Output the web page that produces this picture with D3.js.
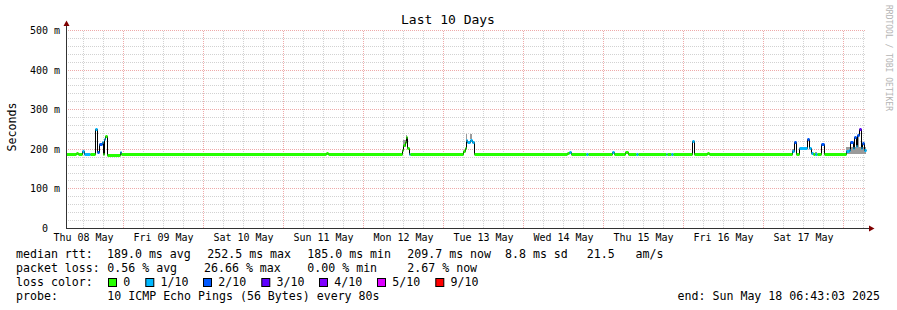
<!DOCTYPE html>
<html>
<head>
<meta charset="utf-8">
<script src="https://cdn.jsdelivr.net/npm/d3@7"></script>
<style>
  body { margin: 0; background: #fff; }
  text { font-family: "DejaVu Sans Mono", monospace; fill: #000; white-space: pre; }
</style>
</head>
<body>
<div id="chart"></div>
<script>
var svgWidth = 897;
var svgHeight = 310;

var parseTime = d3.timeParse("%Y-%m-%d %H:%M");

var startTime = "2025-05-08 06:43";
var endTime = "2025-05-18 06:43";

var yTicks = [0, 100, 200, 300, 400, 500];
var yTickLabels = ["0  ", "100 m", "200 m", "300 m", "400 m", "500 m"];

// loss levels, colour per level
var lossLevels = ["0", "1/10", "2/10", "3/10", "4/10", "5/10", "9/10"];
var lossColors = ["#26ff00", "#00b8ff", "#0059ff", "#5e00ff", "#7e00ff", "#dd00ff", "#ff0000"];

// median rtt as steps: [from, ms, loss level index]
var medianSteps = [
    ["2025-05-08 06:43", 187, 0],
    ["2025-05-08 09:43", 190, 0],
    ["2025-05-08 10:19", 187, 0],
    ["2025-05-08 11:44", 195, 1],
    ["2025-05-08 12:07", 188, 1],
    ["2025-05-08 13:55", 187, 0],
    ["2025-05-08 15:34", 250, 1],
    ["2025-05-08 16:01", 191, 2],
    ["2025-05-08 16:46", 212, 2],
    ["2025-05-08 17:31", 216, 1],
    ["2025-05-08 17:58", 187, 0],
    ["2025-05-08 18:16", 225, 1],
    ["2025-05-08 18:34", 232, 0],
    ["2025-05-08 19:01", 185, 0],
    ["2025-05-08 22:55", 191, 1],
    ["2025-05-08 23:13", 187, 0],
    ["2025-05-11 12:43", 190, 0],
    ["2025-05-11 13:19", 187, 0],
    ["2025-05-12 11:31", 198, 0],
    ["2025-05-12 11:49", 209, 0],
    ["2025-05-12 12:25", 216, 0],
    ["2025-05-12 12:43", 229, 0],
    ["2025-05-12 13:10", 203, 0],
    ["2025-05-12 13:37", 187, 1],
    ["2025-05-12 13:55", 187, 0],
    ["2025-05-13 05:49", 195, 0],
    ["2025-05-13 06:25", 203, 0],
    ["2025-05-13 06:52", 221, 1],
    ["2025-05-13 07:19", 216, 1],
    ["2025-05-13 07:55", 223, 1],
    ["2025-05-13 08:31", 218, 1],
    ["2025-05-13 09:07", 187, 0],
    ["2025-05-14 13:01", 190, 0],
    ["2025-05-14 13:37", 192, 1],
    ["2025-05-14 14:13", 187, 0],
    ["2025-05-14 18:43", 187, 1],
    ["2025-05-14 19:19", 187, 0],
    ["2025-05-15 02:31", 191, 1],
    ["2025-05-15 03:07", 187, 0],
    ["2025-05-15 06:43", 191, 0],
    ["2025-05-15 07:19", 187, 0],
    ["2025-05-15 09:43", 187, 1],
    ["2025-05-15 10:19", 187, 0],
    ["2025-05-15 18:43", 187, 1],
    ["2025-05-15 19:19", 187, 0],
    ["2025-05-15 20:31", 187, 1],
    ["2025-05-15 20:49", 187, 0],
    ["2025-05-16 02:31", 220, 1],
    ["2025-05-16 03:07", 187, 0],
    ["2025-05-16 07:01", 190, 0],
    ["2025-05-16 07:37", 187, 0],
    ["2025-05-17 08:49", 195, 1],
    ["2025-05-17 09:07", 218, 2],
    ["2025-05-17 09:52", 188, 0],
    ["2025-05-17 10:55", 202, 1],
    ["2025-05-17 13:10", 224, 2],
    ["2025-05-17 13:37", 203, 1],
    ["2025-05-17 14:13", 190, 1],
    ["2025-05-17 14:49", 187, 0],
    ["2025-05-17 15:25", 186, 1],
    ["2025-05-17 16:19", 187, 0],
    ["2025-05-17 17:31", 213, 2],
    ["2025-05-17 18:25", 187, 0],
    ["2025-05-18 00:43", 194, 1],
    ["2025-05-18 01:37", 198, 1],
    ["2025-05-18 02:13", 218, 2],
    ["2025-05-18 02:49", 203, 1],
    ["2025-05-18 03:16", 230, 2],
    ["2025-05-18 03:43", 206, 1],
    ["2025-05-18 04:10", 236, 2],
    ["2025-05-18 04:37", 250, 3],
    ["2025-05-18 05:13", 203, 1],
    ["2025-05-18 05:40", 214, 2],
    ["2025-05-18 06:07", 196, 1]
];

// smoke (spread of the pings): [from, to, low ms, high ms]
var smokeBands = [
    ["2025-05-12 11:49", "2025-05-12 12:43", 205, 222],
    ["2025-05-12 12:43", "2025-05-12 13:10", 215, 236],
    ["2025-05-13 06:52", "2025-05-13 07:19", 222, 238],
    ["2025-05-13 07:55", "2025-05-13 08:31", 224, 238],
    ["2025-05-17 08:49", "2025-05-17 09:07", 190, 200],
    ["2025-05-17 15:25", "2025-05-17 16:19", 185, 192],
    ["2025-05-18 00:43", "2025-05-18 06:43", 187, 205],
    ["2025-05-18 04:10", "2025-05-18 04:37", 205, 232]
];

var rttStats = ["189.0 ms avg", "252.5 ms max", "185.0 ms min", "209.7 ms now", "8.8 ms sd", "21.5   am/s"];
var lossStats = ["0.56 % avg", "26.66 % max", "0.00 % min", "2.67 % now"];
var probeText = "10 ICMP Echo Pings (56 Bytes) every 80s";
var endText = "end: Sun May 18 06:43:03 2025";

var svg = d3.select("#chart")
    .append("svg")
    .attr("width", svgWidth)
    .attr("height", svgHeight);

var t0 = parseTime(startTime);
var t1 = parseTime(endTime);

var x = d3.scaleTime()
    .domain([t0, t1])
    .rangeRound([65.5, 865.5]);

var y = d3.scaleLinear()
    .domain([0, 500])
    .rangeRound([228, 30]);

var plotH = 228 - 30;

// grid
function styleGrid(g, color) {
    g.select(".domain").remove();
    g.selectAll("line")
        .attr("stroke", color)
        .attr("stroke-dasharray", "1,1");
}

svg.append("g")
    .attr("transform", "translate(66,0)")
    .call(d3.axisLeft(y).tickValues(d3.range(20, 500, 20).filter(d => d % 100 !== 0)).tickSize(-800).tickFormat(""))
    .call(styleGrid, "#d2d2d2");

svg.append("g")
    .attr("transform", "translate(0,228)")
    .call(d3.axisBottom(x).tickValues(d3.timeHour.every(6).range(t0, t1).filter(d => d.getHours() !== 0)).tickSize(-plotH).tickFormat(""))
    .call(styleGrid, "#d2d2d2");

svg.append("g")
    .attr("transform", "translate(66,0)")
    .call(d3.axisLeft(y).tickValues(yTicks.slice(1)).tickSize(-800).tickFormat(""))
    .call(styleGrid, "#eeaaaa");

svg.append("g")
    .attr("transform", "translate(0,228)")
    .call(d3.axisBottom(x).tickValues(d3.timeDay.range(t0, t1)).tickSize(-plotH).tickFormat(""))
    .call(styleGrid, "#eeaaaa");

// smoke
svg.append("g")
    .selectAll("rect")
    .data(smokeBands)
    .enter()
    .append("rect")
    .attr("x", d => x(parseTime(d[0])))
    .attr("width", d => x(parseTime(d[1])) - x(parseTime(d[0])))
    .attr("y", d => y(d[3]))
    .attr("height", d => y(d[2]) - y(d[3]))
    .attr("fill", "#9a9a9a");

// median
var steps = medianSteps.map(function (d, i) {
    var next = medianSteps[i + 1];
    return {
        from: parseTime(d[0]),
        to: parseTime(next ? next[0] : endTime),
        rtt: d[1],
        loss: d[2]
    };
});

var medianGroup = svg.append("g")
    .attr("transform", "translate(0.5,0.5)");

var stepLine = d3.line()
    .x(d => x(d.t))
    .y(d => y(d.rtt))
    .curve(d3.curveStepAfter);

var linePoints = steps.map(d => ({ t: d.from, rtt: d.rtt }));
linePoints.push({ t: t1, rtt: steps[steps.length - 1].rtt });

medianGroup.append("path")
    .datum(linePoints)
    .attr("d", stepLine)
    .attr("fill", "none")
    .attr("stroke", "#000")
    .attr("stroke-width", 1);

medianGroup.selectAll("line.med")
    .data(steps)
    .enter()
    .append("line")
    .attr("class", "med")
    .attr("x1", d => x(d.from))
    .attr("x2", d => x(d.to))
    .attr("y1", d => y(d.rtt))
    .attr("y2", d => y(d.rtt))
    .attr("stroke", d => lossColors[d.loss])
    .attr("stroke-width", 3);

// axes
var yAxis = svg.append("g")
    .attr("transform", "translate(66,0)")
    .call(d3.axisLeft(y).tickValues(yTicks).tickSize(0).tickPadding(6).tickFormat((d, i) => yTickLabels[i]));
yAxis.select(".domain").remove();
yAxis.selectAll("text").style("font-size", "10px").style("font-family", "DejaVu Sans Mono");

var noons = d3.timeDay.range(d3.timeDay.floor(t0), t1)
    .map(d => d3.timeHour.offset(d, 12))
    .filter(d => d < t1);
var xAxis = svg.append("g")
    .attr("transform", "translate(0,228)")
    .call(d3.axisBottom(x).tickValues(noons).tickSize(0).tickPadding(6).tickFormat(d3.timeFormat("%a %d %b")));
xAxis.select(".domain").remove();
xAxis.selectAll("text").style("font-size", "10px").style("font-family", "DejaVu Sans Mono");

svg.append("line")
    .attr("x1", 66.5).attr("x2", 66.5)
    .attr("y1", 228.5).attr("y2", 25)
    .attr("stroke", "#333");
svg.append("line")
    .attr("x1", 66).attr("x2", 870)
    .attr("y1", 228.5).attr("y2", 228.5)
    .attr("stroke", "#333");

svg.append("path")
    .attr("d", "M66.5,20.5L63.5,26L69.5,26Z")
    .attr("fill", "#7f0000");
svg.append("path")
    .attr("d", "M874.5,228.5L869,225.5L869,231.5Z")
    .attr("fill", "#7f0000");

// titles
svg.append("text")
    .attr("x", 448)
    .attr("y", 24)
    .attr("text-anchor", "middle")
    .style("font-size", "13px")
    .text("Last 10 Days");

svg.append("text")
    .attr("transform", "translate(16,127) rotate(-90)")
    .attr("text-anchor", "middle")
    .style("font-size", "11.6px")
    .text("Seconds");

svg.append("text")
    .attr("transform", "translate(886,5) rotate(90)")
    .style("font-size", "8px")
    .style("fill", "#b4b4b4")
    .text("RRDTOOL / TOBI OETIKER");

// legend
var legend = svg.append("g").style("font-size", "11.6px");

function legendText(xPos, yPos, str) {
    legend.append("text").attr("x", xPos).attr("y", yPos).text(str);
}

var rttX = [107, 207.3, 307.3, 407.3, 505, 586.7];
var lossX = [107.3, 204, 307.3, 407.3];
var boxX = [108.5, 145.8, 203.5, 261.8, 319.5, 377.5, 435.8];

legendText(16, 258, "median rtt:");
rttStats.forEach((s, i) => legendText(rttX[i], 258, s));

legendText(16, 272, "packet loss:");
lossStats.forEach((s, i) => legendText(lossX[i], 272, s));

legendText(16, 286, "loss color:");
legend.selectAll("rect")
    .data(lossLevels)
    .enter()
    .append("rect")
    .attr("x", (d, i) => boxX[i])
    .attr("y", 278.5)
    .attr("width", 8)
    .attr("height", 8)
    .attr("fill", (d, i) => lossColors[i])
    .attr("stroke", "#000")
    .attr("stroke-width", 1);
lossLevels.forEach((s, i) => legendText(boxX[i] + 14.7, 286, s));

legendText(16, 300, "probe:");
legendText(107.3, 300, probeText);
legend.append("text")
    .attr("x", 880)
    .attr("y", 300)
    .attr("text-anchor", "end")
    .text(endText);
</script>
</body>
</html>
